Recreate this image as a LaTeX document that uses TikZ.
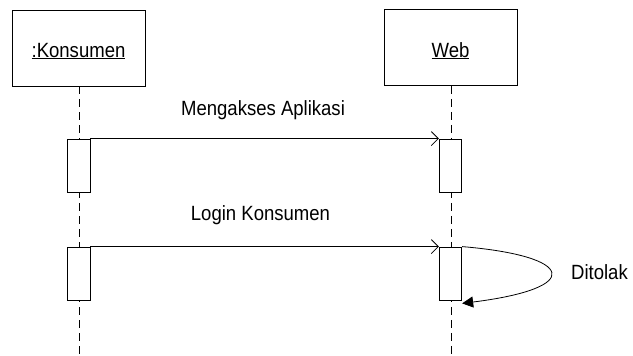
\documentclass[tikz,border=0pt]{standalone}
\usepackage{fontspec}
\setmainfont{Liberation Sans}
\usetikzlibrary{arrows.meta}
\tikzset{
  actor/.style={draw, line width=0.8pt, minimum width=133pt, minimum height=76pt, inner sep=0pt},
  activation/.style={draw, fill=white, line width=0.8pt, minimum width=22.5pt, minimum height=53pt, inner sep=0pt},
  lifeline/.style={line width=0.8pt, dash pattern=on 8pt off 5pt},
  msg/.style={line width=0.8pt, -{Straight Barb[length=7pt, width=14pt, line width=0.8pt]}},
  ret/.style={line width=0.8pt, -{Triangle[length=11pt, width=11pt]}},
  lbl/.style={inner sep=0pt, anchor=base, font=\fontsize{20.6}{24}\selectfont}
}
\newcommand{\narrow}[1]{\scalebox{0.9}[1]{#1}}
\begin{document}
\begin{tikzpicture}[x=1pt, y=-1pt]
\useasboundingbox (0,0) rectangle (633,356);
% participants
\node[actor] (kons) at (78.5,48) {};
\node[actor] (web) at (450.5,47.5) {};
\node[lbl] (konsl) at (78.5,57) {\narrow{\underline{:Konsumen}}};
\node[lbl] (webl) at (450.5,57) {\narrow{\underline{Web}}};
% lifelines
\coordinate (kend) at (79,356);
\coordinate (wend) at (451,356);
\draw[lifeline] (kons.south -| kend) -- (kend);
\draw[lifeline] (web.south -| wend) -- (wend);
% activations
\node[activation] (k1) at (78.75,165.5) {};
\node[activation] (w1) at (450.5,165.5) {};
\node[activation] (k2) at (78.75,273.5) {};
\node[activation] (w2) at (450.5,273.5) {};
% messages
\draw[msg] (k1.north east) -- (w1.north west);
\node[lbl] (m1) at (263,115) {\narrow{Mengakses Aplikasi}};
\draw[msg] (k2.north east) -- (w2.north west);
\node[lbl] (m2) at (260.5,220) {\narrow{Login Konsumen}};
% self message
\draw[ret] (w2.north east) .. controls (575,256) and (585,288) .. ([yshift=-3pt]w2.south east);
\node[lbl] (m3) at (599.5,279) {\narrow{Ditolak}};
\end{tikzpicture}
\end{document}
